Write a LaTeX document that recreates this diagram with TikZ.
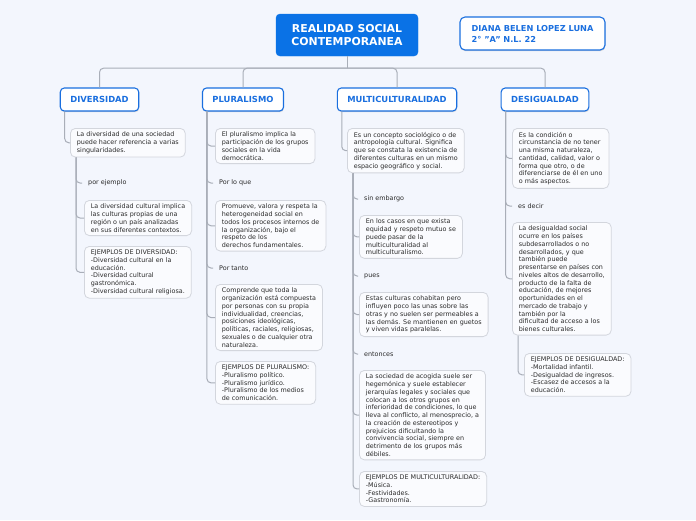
\documentclass[tikz,border=0pt]{standalone}
\usepackage{fontspec}
\setmainfont{DejaVu Sans}
\usetikzlibrary{shadows}
\definecolor{canvas}{HTML}{F3F6FD}
\definecolor{rootblue}{HTML}{0A72E6}
\definecolor{topicblue}{HTML}{1A6FDF}
\definecolor{leafline}{HTML}{D3D6DD}
\definecolor{wire}{HTML}{A9AEB8}
\definecolor{ink}{HTML}{2B2B2B}

\begin{document}
\begin{tikzpicture}[x=1pt,y=-1pt,
  rootbox/.style={fill=rootblue,draw=rootblue,rounded corners=4pt,text=white,align=center,
    font=\fontsize{10.9}{12.5}\selectfont\bfseries,minimum width=142pt,minimum height=42pt},
  topic/.style={fill=white,draw=topicblue,line width=1.1pt,rounded corners=4pt,text=topicblue,
    font=\fontsize{8.4}{10}\selectfont\bfseries,inner xsep=10pt,minimum height=23pt,
    drop shadow={shadow xshift=.4pt,shadow yshift=-1.2pt,opacity=.25,fill=black!60}},
  leaf/.style={draw=leafline,fill=canvas!40!white,line width=.8pt,rounded corners=5pt,anchor=north west,
    align=left,inner xsep=6.5pt,inner ysep=3.5pt,text=ink,font=\fontsize{6.4}{7.75}\selectfont},
  tag/.style={anchor=west,inner xsep=6pt,text=ink,font=\fontsize{6.4}{7.75}\selectfont},
  branch/.style={draw=wire,line width=1pt,rounded corners=4pt}]
\useasboundingbox (0,0) rectangle (696,520);
\fill[canvas] (0,0) rectangle (696,520);

\node[rootbox] (root) at (347,35) {REALIDAD SOCIAL\\CONTEMPORANEA};
\node[topic,align=left,inner xsep=11pt,minimum width=145pt,minimum height=33pt,rounded corners=5pt,
  font=\fontsize{8.2}{11}\selectfont\bfseries] (author) at (532.5,33.5) {DIANA BELEN LOPEZ LUNA\\2° \symbol{34}A\symbol{34} N.L. 22};

\node[topic] (div) at (99.5,99.5) {DIVERSIDAD};
\node[topic] (plu) at (243,99.5) {PLURALISMO};
\node[topic] (mul) at (397,99.5) {MULTICULTURALIDAD};
\node[topic] (des) at (545,99.5) {DESIGUALDAD};

\node[leaf] (d1) at (70,128) {La diversidad de una sociedad\\puede hacer referencia a varias\\singularidades.};
\node[tag] (dtag) at (82,183) {por ejemplo};
\node[leaf] (d2) at (84,200) {La diversidad cultural implica\\las culturas propias de una\\región o un país analizadas\\en sus diferentes contextos.};
\node[leaf] (d3) at (84,246) {EJEMPLOS DE DIVERSIDAD:\\-Diversidad cultural en la\\educación.\\-Diversidad cultural\\gastronómica.\\-Diversidad cultural religiosa.};

\node[leaf] (p1) at (215,128) {El pluralismo implica la\\participación de los grupos\\sociales en la vida\\democrática.};
\node[tag] (ptag1) at (213,183) {Por lo que};
\node[leaf] (p2) at (215,200) {Promueve, valora y respeta la\\heterogeneidad social en\\todos los procesos internos de\\la organización, bajo el\\respeto de los\\derechos fundamentales.};
\node[tag] (ptag2) at (213,268) {Por tanto};
\node[leaf] (p3) at (215,284) {Comprende que toda la\\organización está compuesta\\por personas con su propia\\individualidad, creencias,\\posiciones ideológicas,\\políticas, raciales, religiosas,\\sexuales o de cualquier otra\\naturaleza.};
\node[leaf] (p4) at (215,361) {EJEMPLOS DE PLURALISMO:\\-Pluralismo político.\\-Pluralismo jurídico.\\-Pluralismo de los medios\\de comunicación.};

\node[leaf] (m1) at (347,128) {Es un concepto sociológico o de\\antropología cultural. Significa\\que se constata la existencia de\\diferentes culturas en un mismo\\espacio geográfico y social.};
\node[tag] (mtag1) at (358,199) {sin embargo};
\node[leaf] (m2) at (359,215) {En los casos en que exista\\equidad y respeto mutuo se\\puede pasar de la\\multiculturalidad al\\multiculturalismo.};
\node[tag] (mtag2) at (358,276) {pues};
\node[leaf] (m3) at (359,292) {Estas culturas cohabitan pero\\influyen poco las unas sobre las\\otras y no suelen ser permeables a\\las demás. Se mantienen en guetos\\y viven vidas paralelas.};
\node[tag] (mtag3) at (358,354) {entonces};
\node[leaf] (m4) at (359,370) {La sociedad de acogida suele ser\\hegemónica y suele establecer\\jerarquías legales y sociales que\\colocan a los otros grupos en\\inferioridad de condiciones, lo que\\lleva al conflicto, al menosprecio, a\\la creación de estereotipos y\\prejuicios dificultando la\\convivencia social, siempre en\\detrimento de los grupos más\\débiles.};
\node[leaf] (m5) at (359,471) {EJEMPLOS DE MULTICULTURALIDAD:\\-Música.\\-Festividades.\\-Gastronomía.};

\node[leaf] (g1) at (512,128) {Es la condición o\\circunstancia de no tener\\una misma naturaleza,\\cantidad, calidad, valor o\\forma que otro, o de\\diferenciarse de él en uno\\o más aspectos.};
\node[tag] (gtag) at (512,206) {es decir};
\node[leaf] (g2) at (512,222) {La desigualdad social\\ocurre en los países\\subdesarrollados o no\\desarrollados, y que\\también puede\\presentarse en países con\\niveles altos de desarrollo,\\producto de la falta de\\educación, de mejores\\oportunidades en el\\mercado de trabajo y\\también por la\\dificultad de acceso a los\\bienes culturales.};
\node[leaf] (g3) at (524,353) {EJEMPLOS DE DESIGUALDAD:\\-Mortalidad infantil.\\-Desigualdad de ingresos.\\-Escasez de accesos a la\\educación.};

\draw[branch] (root.south) -- ++(0,12) coordinate (hub);
\foreach \t in {div,plu,mul,des} \draw[branch] (hub) -| (\t.north);
\draw[branch] ([xshift=5pt]div.south west) |- (d1.west);
\foreach \t in {dtag,d2,d3} \draw[branch] ([xshift=6pt]d1.south west) |- (\t.west);
\foreach \t in {p1,ptag1,p2,ptag2,p3,p4} \draw[branch] ([xshift=5pt]plu.south west) |- (\t.west);
\draw[branch] ([xshift=5pt]mul.south west) |- (m1.west);
\foreach \t in {mtag1,m2,mtag2,m3,mtag3,m4,m5} \draw[branch] ([xshift=6pt]m1.south west) |- (\t.west);
\foreach \t in {g1,gtag,g2} \draw[branch] ([xshift=5pt]des.south west) |- (\t.west);
\draw[branch] ([xshift=6pt]g2.south west) |- (g3.west);
\end{tikzpicture}
\end{document}
